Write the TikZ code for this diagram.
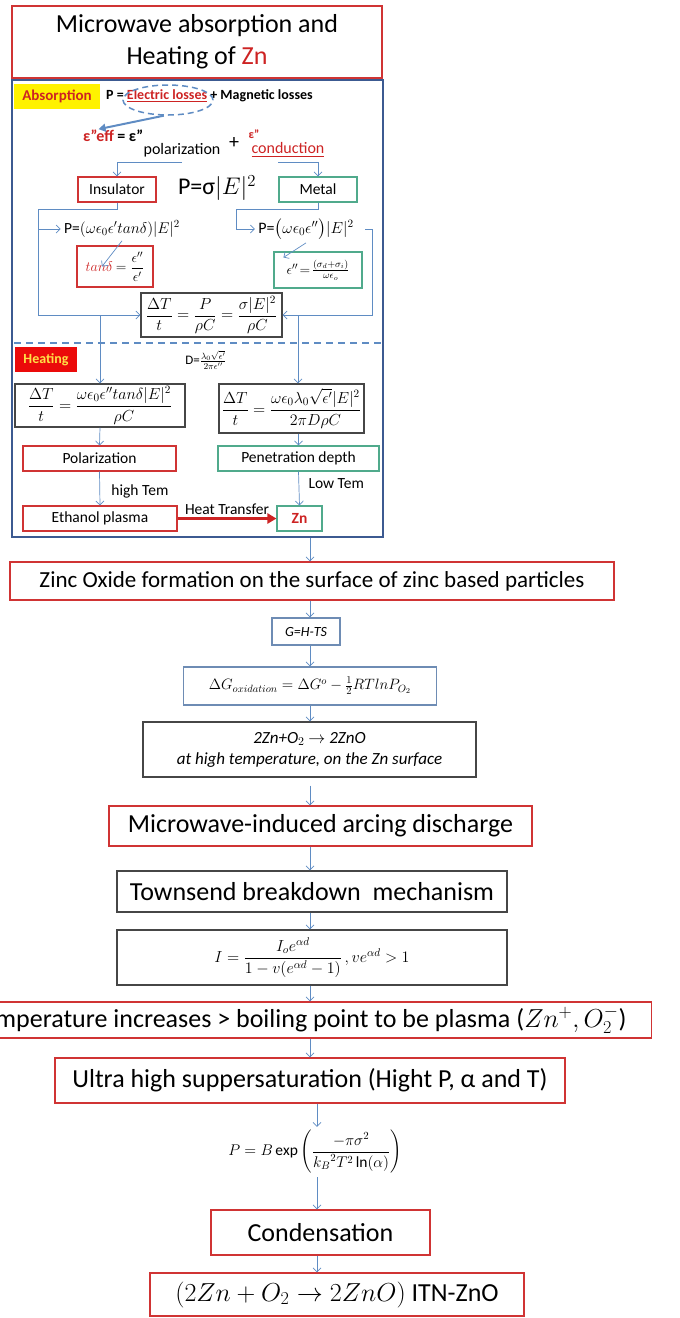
\documentclass[tikz,border=0pt]{standalone}
\usepackage{fix-cm}
\usepackage{amsmath}
\usepackage{fontspec}
\setmainfont{Carlito}
\usetikzlibrary{arrows.meta,positioning,shapes.geometric}

\definecolor{boxred}{RGB}{208,52,52}
\definecolor{boxgreen}{RGB}{80,170,140}
\definecolor{boxgray}{RGB}{70,70,70}
\definecolor{boxblue}{RGB}{110,140,180}
\definecolor{panelblue}{RGB}{60,90,145}
\definecolor{flowblue}{RGB}{95,140,195}
\definecolor{txtred}{RGB}{205,35,35}
\definecolor{tagyellow}{RGB}{255,242,0}
\definecolor{tagred}{RGB}{235,10,10}
\definecolor{tagtext}{RGB}{255,225,70}

\tikzset{
  boxsize/.style 2 args={minimum width=#1pt, minimum height=#2pt},
  redbox/.style={draw=boxred, line width=1.1pt, inner sep=1pt},
  greenbox/.style={draw=boxgreen, line width=1.1pt, inner sep=1pt},
  graybox/.style={draw=boxgray, line width=1.1pt, inner sep=1pt},
  bluebox/.style={draw=boxblue, line width=1.1pt, inner sep=1pt},
  flow/.style={draw=flowblue, line width=0.7pt, -{Straight Barb[length=4pt,width=8pt]}},
  wire/.style={draw=flowblue, line width=0.7pt},
  pointer/.style={draw=flowblue, line width=2pt, -{Triangle[length=7pt,width=8pt]}},
  heatflow/.style={draw=txtred, line width=2.5pt, -{Triangle[length=9pt,width=10pt]}},
  sepline/.style={draw=flowblue, line width=1.6pt, dash pattern=on 7pt off 5pt},
  fbold/.style={font=\fontsize{14}{16}\selectfont\bfseries},
  fsmall/.style={font=\fontsize{15.5}{18}\selectfont},
  fmid/.style={font=\fontsize{23}{27}\selectfont},
  fbig/.style={font=\fontsize{26}{32}\selectfont},
}

\begin{document}
\begin{tikzpicture}[x=1pt,y=-1pt]
\useasboundingbox (0,0) rectangle (680,1318);
% heading and panel
\node[draw=boxred, line width=1.3pt, boxsize={370}{72}, fbig, align=center] (title) at (197,42)
  {Microwave absorption and\\Heating of \textcolor{txtred}{Zn}};
\node[draw=panelblue, line width=1.3pt, boxsize={371}{457}] (panel) at (197.5,308.5) {};
% absorption
\node[fill=tagyellow, boxsize={86}{25}, font=\fontsize{15}{17}\selectfont\bfseries, text=txtred] (absorb) at (57,96) {Absorption};
\node[fbold, anchor=west, inner sep=0pt] (ploss) at (106,96)
  {P = \textcolor{txtred}{\underline{Electric losses}} + Magnetic losses};
\node[draw=flowblue, line width=1.5pt, dash pattern=on 6pt off 4pt, ellipse,
  boxsize={90}{30}] (ring) at (168,100) {};
\node[font=\fontsize{16}{18}\selectfont\bfseries, text=txtred, anchor=base west, inner sep=0pt] (epsred) at (83,141) {ε”eff};
\node[font=\fontsize{16}{18}\selectfont\bfseries, anchor=base west, inner sep=0pt] (epsrest) at ([xshift=3pt]epsred.base east) {= ε”};
\draw[pointer] (ring.255) -- (epsred.north);
\node[font=\fontsize{16}{18}\selectfont, inner sep=0pt] (polar) at (182,150) {polarization};
\node[font=\fontsize{20}{22}\selectfont, inner sep=0pt] (plus) at (234,143) {+};
\node[font=\fontsize{12}{14}\selectfont\bfseries, text=txtred, inner sep=0pt] (epscon) at (254,134) {ε”};
\node[font=\fontsize{16}{18}\selectfont, text=txtred, inner sep=0pt] (conduc) at (288,150) {\underline{conduction}};
% insulator and metal
\node[redbox, boxsize={78}{25}, fsmall] (insul) at (117,189.5) {Insulator};
\node[greenbox, boxsize={78}{25}, fsmall] (metal) at (318,189.5) {Metal};
\node[font=\fontsize{24}{26}\selectfont] (psig) at (217,188) {P=σ$|E|^2$};
\draw[flow] ([yshift=-5pt]polar.south) -| (insul.north);
\draw[flow] ([xshift=-10pt,yshift=-5pt]conduc.south) -| (metal.north);
\node[font=\fontsize{15.5}{17}\selectfont] (pins) at (122,229) {P=$(\omega\epsilon_0\epsilon' tan\delta)|E|^2$};
\node[font=\fontsize{16}{18}\selectfont] (pmet) at (306,229) {P=$\bigl(\omega\epsilon_0\epsilon''\bigr)|E|^2$};
\node[redbox, boxsize={76}{41}, font=\fontsize{14}{16}\selectfont] (tanbox) at (115,266.5)
  {\textcolor{txtred}{$tan\delta$} $=\dfrac{\epsilon''}{\epsilon'}$};
\node[greenbox, boxsize={88}{36}, font=\fontsize{14}{16}\selectfont] (epsbox) at (318,270)
  {$\epsilon''\!=\!\frac{(\sigma_d+\sigma_i)}{\omega\epsilon_o}$};
\node[graybox, boxsize={141}{44}, font=\fontsize{16}{18}\selectfont] (dT) at (211.5,315)
  {$\dfrac{\Delta T}{t}=\dfrac{P}{\rho C}=\dfrac{\sigma|E|^2}{\rho C}$};
\draw[flow] (pins.south) -- ([xshift=-13pt]tanbox.center);
\draw[flow] (pmet.south) -- ([xshift=10pt,yshift=-6pt]epsbox.north west);
% left branch
\coordinate (lbustop) at (38,209);
\coordinate (lbusmid) at (38,229);
\coordinate (lbusbot) at (38,315);
\draw[wire] (insul.south) |- (lbustop) -- (lbusbot);
\draw[flow] (lbusmid) -- (pins.west);
\draw[flow] (lbusbot) -- (dT.west);
% right branch
\coordinate (rturn) at (236,209);
\coordinate (rbustop) at (372,229);
\draw[flow] (metal.south) |- (rturn) |- (pmet.west);
\draw[flow] ([xshift=8pt]pmet.east) -- (rbustop) |- (dT.east);
% heating
\draw[sepline] (14,343) -- (381,343);
\node[fill=tagred, boxsize={62}{25}, fbold, text=tagtext] (heattag) at (46,359.5) {Heating};
\node[font=\fontsize{13}{15}\selectfont] (dform) at (206,360) {D=$\frac{\lambda_0\sqrt{\epsilon'}}{2\pi\epsilon''}$};
\node[graybox, boxsize={170}{43}, font=\fontsize{16}{18}\selectfont] (hl) at (100,405.5)
  {$\dfrac{\Delta T}{t}=\dfrac{\omega\epsilon_0\epsilon'' tan\delta|E|^2}{\rho C}$};
\node[graybox, boxsize={145}{49}, font=\fontsize{16}{18}\selectfont] (hr) at (291.5,408.5)
  {$\dfrac{\Delta T}{t}=\dfrac{\omega\epsilon_0\lambda_0\sqrt{\epsilon'}|E|^2}{2\pi D\rho C}$};
\coordinate (rsplit) at (298,315);
\draw[flow] (hl.north |- lbusbot) -- (hl.north);
\draw[flow] (rsplit) -- (rsplit |- hr.north);
\node[redbox, boxsize={153}{25}, fsmall] (polariz) at (99.5,458.5) {Polarization};
\node[greenbox, boxsize={161}{25}, fsmall] (penet) at (298.5,458.5) {Penetration depth};
\node[redbox, boxsize={154}{25}, fsmall] (ethanol) at (100,518.5) {Ethanol plasma};
\node[greenbox, boxsize={45}{25}, font=\fontsize{15.5}{18}\selectfont\bfseries, text=txtred] (zn) at (299.5,518.5) {Zn};
\draw[flow] (hl.south) -- (polariz.north);
\draw[flow] (penet.north |- hr.south) -- (penet.north);
\draw[flow] (polariz.south) -- node[right=8pt, pos=0.6, fsmall] {high Tem} (ethanol.north);
\draw[flow] (penet.south) -- node[right=6pt, pos=0.34, fsmall] {Low Tem} (zn.north);
\draw[heatflow] (ethanol.east) -- node[above=-1pt, fsmall] {Heat Transfer} (zn.west);
% oxide formation
\coordinate (colA) at (310,0);
\coordinate (colB) at (317,0);
\node[redbox, boxsize={604}{38}, fmid] (zinc) at (312,581) {Zinc Oxide formation on the surface of zinc based particles};
\node[bluebox, boxsize={68}{27}, font=\fontsize{14}{16}\selectfont\itshape] (ghts) at (306,631.5) {G=H-TS};
\node[bluebox, boxsize={253}{38}, font=\fontsize{15}{17}\selectfont] (dG) at (310,686)
  {$\Delta G_{oxidation}=\Delta G^{o}-\frac{1}{2}RTlnP_{O_2}$};
\node[graybox, boxsize={333}{55}, font=\fontsize{17}{21}\selectfont\itshape, align=center] (twozn) at (309.5,749.5)
  {2Zn+O$_2$ $\rightarrow$ 2ZnO\\at high temperature, on the Zn surface};
\draw[flow] (panel.south -| colA) -- (zinc.north -| colA);
\draw[flow] (zinc.south -| colA) -- (ghts.north -| colA);
\draw[flow] (ghts.south -| colA) -- (dG.north -| colA);
\draw[flow] (dG.south -| colA) -- (twozn.north -| colA);
% arcing and plasma
\node[redbox, boxsize={423}{40}, fbig] (arc) at (320.5,826) {Microwave-induced arcing discharge};
\node[graybox, boxsize={390}{41}, fbig] (towns) at (312,891.5) {Townsend breakdown\ \ mechanism};
\node[graybox, boxsize={390}{55}, font=\fontsize{16}{18}\selectfont] (iform) at (312,957.5)
  {$I=\dfrac{I_oe^{\alpha d}}{1-v(e^{\alpha d}-1)}\,,ve^{\alpha d}>1$};
\node[redbox, fbig, anchor=east, minimum height=36pt, inner xsep=25pt] (temp) at (652,1020)
  {Temperature increases > boiling point to be plasma ($Zn^{+},O_2^{-}$)};
\node[redbox, boxsize={510}{45}, fbig] (ultra) at (310,1080.5) {Ultra high suppersaturation (Hight P, α and T)};
\node[font=\fontsize{15.5}{18}\selectfont] (pexp) at (315,1152)
  {$P=B\exp\left(\dfrac{-\pi\sigma^2}{{k_B}^2T^2\ln(\alpha)}\right)$};
\node[redbox, boxsize={219}{45}, fbig] (cond) at (320.5,1232.5) {Condensation};
\node[redbox, boxsize={374}{43}, fbig] (final) at (337,1294.5) {$(2Zn+O_2\rightarrow 2ZnO)$ ITN-ZnO};
\draw[flow, shorten <=8pt] (twozn.south -| colA) -- (arc.north -| colA);
\draw[flow] (arc.south -| colA) -- (towns.north -| colA);
\draw[flow] (towns.south -| colA) -- (iform.north -| colA);
\draw[flow] (iform.south -| colA) -- (temp.north -| colA);
\draw[flow] (temp.south -| colA) -- (ultra.north -| colA);
\draw[flow] (ultra.south -| colB) -- (pexp.north -| colB);
\draw[flow] (pexp.south -| colB) -- (cond.north -| colB);
\draw[flow] (cond.south -| colB) -- (final.north -| colB);
\end{tikzpicture}
\end{document}
